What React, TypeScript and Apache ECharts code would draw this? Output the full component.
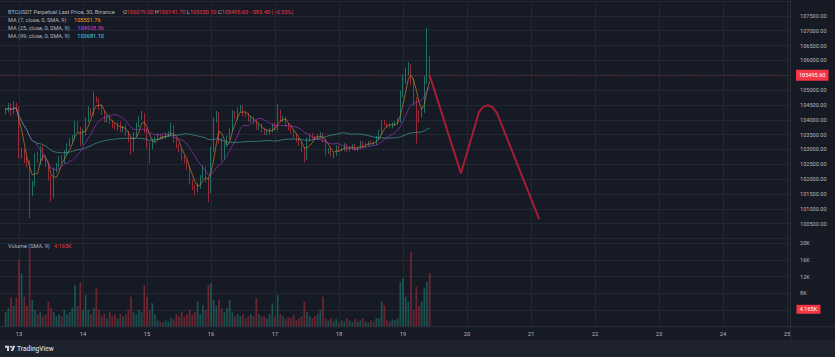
import React, { useEffect, useRef } from 'react';
import * as echarts from 'echarts';

// hourly candles, hour offsets from 13 Oct 00:00
const startHour = -5;
const firstOpen = 104250;
const closes = [
  104330, 104450, 104250, 104520, 104380, 102780, 102950, 102650, 102520, 101530,
  101850, 102820, 102600, 103050, 102700, 102480, 102070, 101420, 102300, 102480,
  102710, 102600, 102900, 103150, 103300, 103420, 103890, 103650, 103220, 103600,
  103990, 104330, 104200, 104700, 104660, 104400, 104220, 103990, 104100, 103920,
  103800, 103720, 103850, 103650, 103750, 103560, 103320, 102990, 103500, 103820,
  104060, 104150, 103650, 103150, 103080, 103300, 103380, 103480, 103400, 103420,
  103480, 103550, 103750, 103320, 103100, 102990, 102710, 102600, 102370, 101900,
  101750, 101630, 101770, 102070, 102370, 101970, 101630, 102990, 103990, 104150,
  103320, 102740, 103150, 103400, 103650, 104220, 104100, 104330, 104390, 104200,
  104150, 103990, 104050, 103920, 103720, 103800, 103650, 103550, 103600, 103650,
  103820, 103700, 104260, 103990, 104050, 103820, 103720, 103600, 103480, 103320,
  103200, 102990, 102710, 103320, 103480, 103400, 103380, 103450, 103500, 103320,
  102920, 102990, 102850, 102850, 103080, 102990, 103000, 103150, 102990, 103050,
  103120, 103000, 103050, 103220, 103120, 103150, 103250, 103220, 103200, 103380,
  103580, 103920, 103850, 103800, 103790, 103850, 103900, 103990, 104830, 105330,
  105600, 105740, 105330, 104660, 104260, 104150, 104330, 105330, 106079, 105495.6,
];
const wickUp = [
  80, 120, 90, 110, 60, 60, 100, 70, 90, 120,
  90, 60, 100, 70, 80, 120, 60, 50, 90, 60,
  70, 100, 80, 60, 90, 70, 80, 60, 110, 90,
  80, 120, 60, 250, 90, 70, 100, 80, 60, 90,
  70, 80, 60, 90, 50, 110, 70, 60, 80, 90,
  60, 150, 80, 70, 90, 60, 50, 70, 40, 60,
  50, 60, 150, 80, 60, 70, 50, 90, 60, 70,
  80, 60, 100, 70, 90, 60, 80, 120, 90, 150,
  100, 80, 90, 70, 60, 110, 80, 90, 110, 70,
  60, 80, 70, 60, 90, 50, 70, 60, 80, 70,
  60, 90, 260, 70, 80, 60, 70, 50, 60, 70,
  60, 50, 70, 80, 60, 70, 50, 60, 90, 60,
  50, 60, 70, 40, 60, 50, 60, 70, 40, 60,
  50, 60, 40, 70, 50, 60, 40, 50, 60, 70,
  90, 60, 80, 50, 70, 60, 50, 80, 150, 200,
  150, 200, 120, 90, 100, 80, 70, 150, 1010, 62.7,
];
const wickDn = [
  70, 90, 120, 60, 100, 80, 90, 110, 120, 840,
  100, 80, 60, 120, 90, 70, 110, 170, 60, 80,
  90, 60, 70, 100, 60, 80, 70, 90, 100, 60,
  120, 70, 80, 60, 90, 70, 60, 80, 90, 60,
  80, 60, 90, 70, 80, 100, 60, 170, 60, 70,
  80, 60, 90, 110, 540, 70, 60, 50, 70, 60,
  80, 60, 70, 90, 60, 80, 100, 70, 60, 90,
  120, 180, 80, 90, 70, 80, 400, 100, 70, 90,
  120, 150, 90, 70, 60, 80, 70, 90, 60, 80,
  70, 60, 80, 90, 60, 70, 80, 60, 70, 90,
  70, 60, 90, 80, 60, 70, 80, 60, 90, 70,
  80, 90, 150, 70, 60, 80, 70, 60, 50, 90,
  120, 70, 80, 150, 60, 70, 50, 60, 80, 60,
  70, 50, 60, 40, 70, 60, 50, 60, 70, 50,
  60, 80, 50, 70, 60, 80, 60, 70, 90, 80,
  120, 100, 150, 180, 1060, 250, 80, 100, 120, 145.5,
];
const volumesK = [
  3.5, 4.5, 7, 5, 7, 16, 12.8, 7.2, 5, 18.5,
  6.4, 4, 3, 3.5, 2.5, 3, 6, 4.5, 3.5, 2.5,
  3, 2.5, 4, 3, 3.5, 4.5, 10, 5, 10.6, 4,
  7.6, 4, 3, 4.5, 9.2, 4, 2.5, 3, 2, 3.5,
  2.5, 3, 2, 3, 2.5, 3, 4, 7.2, 3.5, 3,
  4, 3.5, 10, 7.2, 4, 5.6, 3, 1.5, 1.2, 1,
  1.5, 1.2, 2, 1.8, 3, 2.5, 3.5, 2.5, 3, 4,
  3, 3.5, 6, 3, 5.2, 4, 10, 10.4, 6.4, 5,
  6.4, 4.5, 3.5, 4.5, 6.4, 3.5, 2.5, 3, 2.5, 3,
  2, 2.5, 3, 2.5, 6.8, 3, 2.4, 2.5, 2, 3,
  5.6, 2.5, 7.6, 3, 2.5, 1.8, 2.2, 2, 2.8, 1.6,
  2, 2.5, 6, 3.5, 2.5, 2, 2.5, 3, 4, 7.2,
  2, 1.5, 2, 1.2, 1.8, 1, 1.5, 1.2, 2, 1.5,
  1, 1.8, 1.2, 1.5, 2, 1.2, 1, 1.5, 1.2, 2,
  2, 6, 5.2, 1.5, 1.2, 1.8, 1.5, 2, 10.8, 11.6,
  7.2, 6, 18, 4, 9.6, 5, 6, 9.2, 10.8, 12.8,
];
const dayLabels = ['13', '14', '15', '16', '17', '18', '19', '20', '21', '22', '23', '24', '25'];
const projectionHours = [154, 165.75, 172.5, 174, 175.9, 177.75, 179.25, 195.1];
const projectionPrices = [105495.6, 102195, 104259, 104427, 104494, 104410, 104225, 100647];
const maPeriods = [4, 12, 50];
const maLegendNames = ['MA (7, close, 0, SMA, 9)', 'MA (25, close, 0, SMA, 9)', 'MA (99, close, 0, SMA, 9)'];
const maLegendValues = ['105551.76', '104928.36', '103681.10'];
const ohlcLegend = ['106079.00', '106141.70', '105350.10', '105495.60'];
const changeLegend = '−583.40 (−0.55%)';
const lastPrice = 105495.6;
const volumeSma = 4165;

const BG = '#161a25';
const GRID = '#232733';
const TEXT = '#b2b5be';
const UP = '#22ab94';
const DN = '#f23645';
const MA_COLORS = ['#c9822c', '#9a35bb', '#4a9c9d'];
const MA_TEXT = ['#f7a21b', '#d23ddc', '#4dd0e1'];
const FONT = 'Roboto, "Liberation Sans", sans-serif';

echarts.graphic.registerShape(
  'tvlogo',
  echarts.graphic.extendPath('M14 22H7V11H0V4h14v18zM28 22h-8l7.5-18h8L28 22z', {})
);

export default function App() {
  const ref = useRef<HTMLDivElement>(null);
  useEffect(() => {
    const el = ref.current!;
    const chart = echarts.init(el, null, { renderer: 'svg' });

    const candles: number[][] = [];
    const vols: any[] = [];
    let prev = firstOpen;
    closes.forEach((c, i) => {
      const h = startHour + i;
      const o = prev;
      const hi = Math.max(o, c) + wickUp[i];
      const lo = Math.min(o, c) - wickDn[i];
      candles.push([h, o, c, lo, hi]);
      vols.push({
        value: [h, volumesK[i] * 1000],
        itemStyle: { color: c >= o ? 'rgba(34,171,148,0.4)' : 'rgba(242,54,69,0.4)' },
      });
      prev = c;
    });
    const sma = (n: number) =>
      closes.map((_, i) => {
        const s = Math.max(0, i - n + 1);
        let sum = 0;
        for (let k = s; k <= i; k++) sum += closes[k];
        return [startHour + i, sum / (i - s + 1)];
      });
    const dayTicks = dayLabels.map((_, k) => k * 24);
    const xMin = -7.125;
    const xMax = 289.125;

    const xAxisBase = (gridIndex: number, showLabel: boolean) => ({
      type: 'value',
      gridIndex,
      min: xMin,
      max: xMax,
      axisLine: { show: false },
      axisTick: { show: false, customValues: dayTicks },
      axisLabel: {
        show: showLabel,
        customValues: dayTicks,
        color: TEXT,
        fontSize: 5.8,
        fontFamily: FONT,
        margin: 4,
        formatter: (v: number) => dayLabels[Math.round(v / 24)] ?? '',
      },
      splitLine: { show: true, lineStyle: { color: GRID, width: 1 } },
    });

    chart.setOption({
      animation: false,
      backgroundColor: BG,
      grid: [
        { left: 0, right: 45, top: 1, height: 237.5 },
        { left: 0, right: 45, top: 238.5, height: 88.1 },
      ],
      xAxis: [xAxisBase(0, false), xAxisBase(1, true)],
      yAxis: [
        {
          type: 'value',
          gridIndex: 0,
          position: 'right',
          min: 100000,
          max: 108000,
          interval: 500,
          axisLine: { show: false },
          axisTick: { show: false },
          splitLine: { lineStyle: { color: GRID } },
          axisLabel: {
            color: TEXT,
            fontSize: 5.6,
            fontFamily: FONT,
            margin: 10,
            showMinLabel: false,
            showMaxLabel: false,
            formatter: (v: number) => v.toFixed(2),
          },
        },
        {
          type: 'value',
          gridIndex: 1,
          position: 'right',
          min: 0,
          max: 21200,
          interval: 4000,
          axisLine: { show: false },
          axisTick: { show: false },
          splitLine: { lineStyle: { color: GRID } },
          axisLabel: {
            color: TEXT,
            fontSize: 5.6,
            fontFamily: FONT,
            margin: 10,
            formatter: (v: number) => (v >= 8000 && v % 4000 === 0 ? v / 1000 + 'K' : ''),
          },
        },
      ],
      series: [
        {
          type: 'candlestick',
          xAxisIndex: 0,
          yAxisIndex: 0,
          data: candles,
          encode: { x: 0, y: [1, 2, 3, 4] },
          barWidth: 1.3,
          itemStyle: { color: UP, color0: DN, borderColor: UP, borderColor0: DN, borderWidth: 0.6 },
        },
        ...maPeriods.map((n, k) => ({
          type: 'line',
          xAxisIndex: 0,
          yAxisIndex: 0,
          data: sma(n),
          symbol: 'none',
          lineStyle: { color: MA_COLORS[k], width: 0.8, opacity: 0.85 },
          z: 3,
        })),
        {
          type: 'bar',
          xAxisIndex: 1,
          yAxisIndex: 1,
          data: vols,
          barWidth: 1.7,
        },
        {
          type: 'line',
          xAxisIndex: 0,
          yAxisIndex: 0,
          data: projectionHours.map((h, i) => [h, projectionPrices[i]]),
          symbol: 'none',
          lineStyle: { color: '#a51d32', width: 2 },
          z: 10,
        },
      ],
    });

    const py = chart.convertToPixel({ yAxisIndex: 0 }, lastPrice) as number;
    const vy = chart.convertToPixel({ yAxisIndex: 1 }, volumeSma) as number;
    const txt = (x: number, y: number, text: string, fill: string, extra: any = {}) => ({
      type: 'text',
      x,
      y,
      style: { text, fill, fontSize: 5.6, fontFamily: FONT, verticalAlign: 'middle', ...extra },
      z: 100,
    });

    chart.setOption({
      graphic: [
        { type: 'rect', shape: { x: 0, y: 340, width: 835, height: 17 }, style: { fill: '#1e222d' }, z: 90 },
        { type: 'line', shape: { x1: 0, y1: 326.8, x2: 835, y2: 326.8 }, style: { stroke: '#2a2e39', lineWidth: 1 }, z: 90 },
        { type: 'line', shape: { x1: 790.5, y1: 0, x2: 790.5, y2: 340 }, style: { stroke: '#2a2e39', lineWidth: 1 }, z: 90 },
        {
          type: 'line',
          shape: { x1: 0, y1: py, x2: 790, y2: py },
          style: { stroke: '#c22b3f', lineWidth: 0.8, lineDash: [1, 1.5], opacity: 0.75 },
          z: 1,
        },
        txt(8, 12, 'BTCUSDT Perpetual Last Price, 30, Binance', TEXT),
        {
          type: 'text',
          x: 123,
          y: 12,
          z: 100,
          style: {
            text: `{l|O}{v|${ohlcLegend[0]}} {l|H}{v|${ohlcLegend[1]}} {l|L}{v|${ohlcLegend[2]}} {l|C}{v|${ohlcLegend[3]}} {v|${changeLegend}}`,
            fontSize: 5.6,
            fontFamily: FONT,
            verticalAlign: 'middle',
            rich: {
              l: { fill: TEXT, fontSize: 5.6, fontFamily: FONT },
              v: { fill: DN, fontSize: 5.6, fontFamily: FONT },
            },
          },
        },
        ...maLegendNames.map((t, k) => txt(8, 19.8 + k * 7.9, t, TEXT)),
        ...maLegendValues.map((t, k) => txt(k === 0 ? 74 : 77.3, 19.8 + k * 7.9, t, MA_TEXT[k])),
        txt(8, 245.5, 'Volume (SMA, 9)', TEXT),
        txt(54, 245.5, '4.165K', DN),
        { type: 'rect', shape: { x: 796, y: py - 5.5, width: 32.5, height: 11 }, style: { fill: DN }, z: 100 },
        txt(812.2, py, lastPrice.toFixed(2), '#ffffff', { align: 'center' }),
        { type: 'rect', shape: { x: 796.5, y: vy - 4.5, width: 24, height: 9 }, style: { fill: DN }, z: 100 },
        txt(808.5, vy, (volumeSma / 1000).toFixed(3) + 'K', '#ffffff', { align: 'center' }),
        { type: 'tvlogo', x: 5, y: 344.6, scaleX: 0.29, scaleY: 0.29, style: { fill: '#d1d4dc' }, z: 100 },
        { type: 'circle', shape: { cx: 5 + 20.5 * 0.29, cy: 344.6 + 7.5 * 0.29, r: 3.4 * 0.29 }, style: { fill: '#d1d4dc' }, z: 100 },
        {
          type: 'text',
          x: 17,
          y: 348.5,
          z: 100,
          style: { text: 'TradingView', fill: '#d1d4dc', fontSize: 6.6, fontWeight: 500, fontFamily: FONT, verticalAlign: 'middle' },
        },
      ],
    });

    return () => chart.dispose();
  }, []);

  return (
    <div
      ref={ref}
      style={{ position: 'absolute', left: 0, top: 0, width: 835, height: 357 }}
    />
  );
}
